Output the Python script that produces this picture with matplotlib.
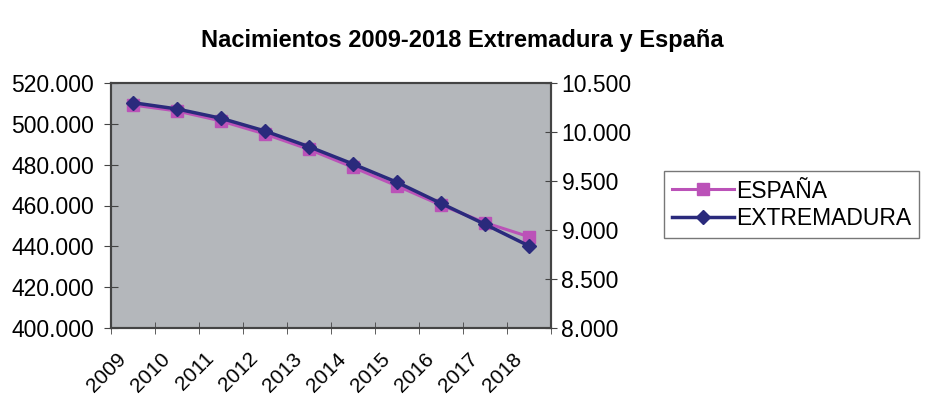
import numpy as np
import matplotlib.pyplot as plt

years = ['2009', '2010', '2011', '2012', '2013', '2014', '2015', '2016', '2017', '2018']
espana = [509200, 506300, 501400, 495000, 487500, 478700, 469600, 460200, 451600, 444700]
extremadura = [10299, 10235, 10140, 10010, 9850, 9673, 9487, 9272, 9058, 8837]

left_ticks = [400000, 420000, 440000, 460000, 480000, 500000, 520000]
right_ticks = [8000, 8500, 9000, 9500, 10000, 10500]

col_esp = '#bb52b8'
col_ext = '#2a2a7c'


def miles(v):
    # formato espanol: punto como separador de miles
    return '{:,.0f}'.format(v).replace(',', '.')


plt.rcParams['font.family'] = ['Liberation Sans', 'DejaVu Sans']

fig = plt.figure(figsize=(9.25, 4), dpi=100)
ax = fig.add_axes([0.12, 0.18, 0.4757, 0.6125])
ax2 = ax.twinx()

x = np.arange(len(years))
l1, = ax.plot(x, espana, color=col_esp, lw=2.2, marker='s', ms=8, label='ESPAÑA')
l2, = ax2.plot(x, extremadura, color=col_ext, lw=2.5, marker='D', ms=7, label='EXTREMADURA')

ax.set_facecolor('#b4b7bb')
ax.set_xlim(-0.5, len(years) - 0.5)
ax.set_ylim(400000, 520000)
ax2.set_ylim(8000, 10500)

ax.set_yticks(left_ticks)
ax.set_yticklabels([miles(v) for v in left_ticks], fontsize=16.5)
ax2.set_yticks(right_ticks)
ax2.set_yticklabels([miles(v) for v in right_ticks], fontsize=16.5)

# marcas en los limites de categoria, etiquetas giradas (sin marca propia)
ax.set_xticks(np.arange(len(years) + 1) - 0.5, minor=True)
ax.set_xticks(x - 0.22)
ax.set_xticklabels(years, fontsize=15, rotation=45, ha='right', va='center',
                   rotation_mode='anchor')

ax.tick_params(axis='x', which='major', length=0, pad=20)
ax.tick_params(axis='x', which='minor', direction='inout', length=9, color='#444444')
ax.tick_params(axis='y', direction='inout', length=10, color='#444444', pad=7)
ax2.tick_params(axis='y', direction='inout', length=9, color='#444444', pad=3)

for a in (ax, ax2):
    for s in a.spines.values():
        s.set_color('#444444')
        s.set_linewidth(1.5)

fig.text(0.5, 0.9, 'Nacimientos 2009-2018 Extremadura y España', ha='center', va='center',
         fontsize=17, fontweight='bold')

leg = fig.legend([l1, l2], ['ESPAÑA', 'EXTREMADURA'], loc='center left',
                 bbox_to_anchor=(0.718, 0.488), fontsize=16.5, frameon=True, fancybox=False,
                 edgecolor='#555555', handlelength=2.7, borderpad=0.35, labelspacing=0.2,
                 handletextpad=0.1, borderaxespad=0)
leg.get_frame().set_linewidth(1.0)

fig.savefig('out.png', dpi=100)
